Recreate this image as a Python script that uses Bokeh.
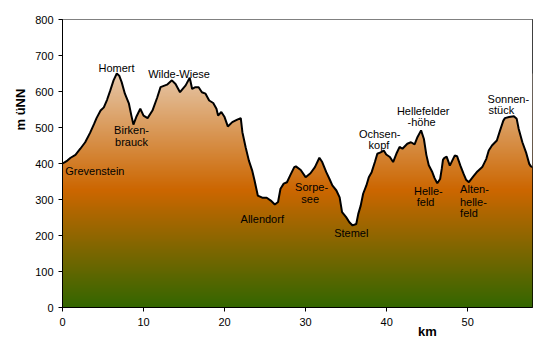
import numpy as np
from math import pi
from bokeh.plotting import figure
from bokeh.models import Range1d, FixedTicker, LinearAxis
from bokeh.core.properties import value
from bokeh.embed import file_html
from bokeh.resources import INLINE

# ---- data ----
km = [0.0, 0.3, 0.6, 1.0, 1.6, 2.2, 2.8, 3.4, 3.9, 4.2, 4.7, 5.1, 5.5, 5.9, 6.3, 6.7,
      7.0, 7.3, 7.7, 8.2, 8.5, 8.75, 9.1, 9.6, 10.0, 10.5, 11.1, 11.7, 12.1, 12.9, 13.5,
      13.95, 14.5, 15.2, 15.7, 16.0, 16.4, 16.8, 17.2, 17.65, 18.1, 18.6, 19.0, 19.2,
      19.6, 20.0, 20.4, 20.95, 21.5, 22.0, 22.2, 22.6, 23.0, 23.4, 23.7, 24.1, 24.65,
      25.2, 25.7, 26.2, 26.6, 26.9, 27.3, 27.7, 28.1, 28.6, 28.8, 29.4, 30.0, 30.6,
      31.15, 31.7, 32.05, 32.55, 32.95, 33.3, 33.8, 34.2, 34.5, 35.0, 35.4, 35.8, 36.25,
      36.5, 36.8, 37.1, 37.5, 37.8, 38.15, 38.55, 38.85, 39.25, 39.65, 39.95, 40.4, 40.8,
      41.2, 41.6, 41.95, 42.55, 43.0, 43.45, 43.8, 44.25, 44.6, 44.9, 45.2, 45.6, 45.9,
      46.25, 46.6, 46.8, 46.95, 47.1, 47.4, 47.8, 48.1, 48.4, 48.7, 49.1, 49.5, 49.8,
      50.15, 50.7, 51.2, 51.8, 52.3, 52.6, 53.0, 53.6, 54.0, 54.4, 54.6, 55.1, 55.7,
      56.05, 56.3, 56.75, 57.2, 57.6, 57.8, 58.0]
elev = [400, 404, 408, 416, 424, 441, 459, 485, 510, 526, 547, 556, 577, 603, 631, 650,
        644, 626, 594, 566, 533, 508, 529, 552, 533, 526, 547, 584, 612, 619, 631,
        621, 598, 617, 638, 607, 612, 612, 598, 594, 575, 568, 552, 533,
        543, 529, 503, 515, 521, 526, 487, 445, 408, 381, 353, 311, 305,
        305, 297, 286, 293, 330, 344, 348, 367, 390, 392, 382, 362, 373,
        390, 416, 404, 376, 357, 339, 325, 306, 265, 251, 237, 228, 232,
        260, 283, 316, 339, 362, 376, 404, 427, 431, 436, 425, 418, 404,
        427, 446, 441, 455, 459, 453, 473, 492, 468, 424, 395, 378, 360,
        345, 357, 385, 410, 415, 419, 394, 408, 422, 420, 394, 371, 355,
        348, 364, 378, 390, 413, 436, 450, 464, 492, 519, 526, 529, 531,
        524, 496, 459, 431, 399, 392, 390]

x_ticks = [0, 10, 20, 30, 40, 50]
y_ticks = [0, 100, 200, 300, 400, 500, 600, 700, 800]
x_title = "km"
y_title = "m üNN"
x_title_at = 45.02   # km position of the x title
y_title_at = 608     # elevation position of the y title

place_text = ["Homert", "Wilde-Wiese", "Birken-", "brauck", "Grevenstein", "Allendorf",
              "Sorpe-", "see", "Stemel", "Ochsen-", "kopf", "Hellefelder", "-höhe",
              "Sonnen-", "stück", "Helle-", "feld", "Alten-", "helle-", "feld"]
place_km = [6.67, 14.38, 8.52, 8.52, 3.99, 24.65,
            30.74, 30.56, 35.64, 39.14, 39.05, 44.51, 44.32,
            55.02, 54.15, 45.15, 44.81, 50.84, 50.70, 50.16]
place_elev = [665, 649, 494, 459, 379, 245,
              334, 301, 206, 482, 451, 547, 515,
              580, 549, 325, 292, 329, 294, 263]

X_MAX = 58
Y_MAX = 800

p = figure(width=551, height=348, x_range=Range1d(0, X_MAX), y_range=Range1d(0, Y_MAX),
           output_backend="svg", toolbar_location=None,
           min_border_left=62, min_border_right=19, min_border_top=19, min_border_bottom=41)
p.background_fill_color = "white"
p.border_fill_color = "white"
p.outline_line_color = "black"
p.outline_line_width = 1
p.xgrid.visible = False
p.ygrid.visible = False

# gradient fill (light tan at top of profile -> orange -> dark green at 0)
top = max(elev)
n = 300
ys = np.linspace(0, top, n)
stops = [0, top / 2, top]
r = np.interp(ys, stops, [51, 204, 230])
g = np.interp(ys, stops, [102, 102, 200])
b = np.interp(ys, stops, [0, 0, 170])
img = np.zeros((n, 2), dtype=np.uint32)
view = img.view(dtype=np.uint8).reshape((n, 2, 4))
view[:, :, 0] = r[:, None].astype(np.uint8)
view[:, :, 1] = g[:, None].astype(np.uint8)
view[:, :, 2] = b[:, None].astype(np.uint8)
view[:, :, 3] = 255
p.image_rgba(image=[img], x=0, y=0, dw=X_MAX, dh=top)

# white mask above profile
mask_x = list(km) + [X_MAX, 0]
mask_y = list(elev) + [Y_MAX + 5, Y_MAX + 5]
p.patch(mask_x, mask_y, fill_color="white", line_color=None)

p.line(km, elev, line_color="black", line_width=2)

p.text(x=place_km, y=place_elev, text=place_text, text_font=value("Liberation Sans"),
       text_font_size="11px", text_align="center", text_baseline="middle",
       text_color="black")

for ax in (p.xaxis[0], p.yaxis[0]):
    ax.axis_line_color = "black"
    ax.major_tick_line_color = "black"
    ax.minor_tick_line_color = None
    ax.major_tick_in = 0
    ax.major_tick_out = 4
    ax.major_label_text_font = "Liberation Sans"
    ax.major_label_text_font_size = "11px"
    ax.major_label_text_color = "black"
p.xaxis[0].ticker = FixedTicker(ticks=x_ticks)
p.yaxis[0].ticker = FixedTicker(ticks=y_ticks)
p.xaxis[0].major_label_standoff = 6
p.yaxis[0].major_label_standoff = 5

# axis titles as single-label extra axes (positioned like the reference)
xt = LinearAxis(ticker=FixedTicker(ticks=[x_title_at]),
                major_label_overrides={x_title_at: x_title})
yt = LinearAxis(ticker=FixedTicker(ticks=[y_title_at]),
                major_label_overrides={y_title_at: y_title},
                major_label_orientation=pi / 2)
for ax in (xt, yt):
    ax.axis_line_color = None
    ax.major_tick_line_color = None
    ax.minor_tick_line_color = None
    ax.major_tick_in = 0
    ax.major_tick_out = 0
    ax.major_label_text_font = "Liberation Sans"
    ax.major_label_text_font_size = "13px"
    ax.major_label_text_font_style = "bold"
    ax.major_label_text_color = "black"
xt.major_label_standoff = -5
yt.major_label_standoff = 12
p.add_layout(xt, "below")
p.add_layout(yt, "left")

open("out.html", "w").write(file_html(p, INLINE))
